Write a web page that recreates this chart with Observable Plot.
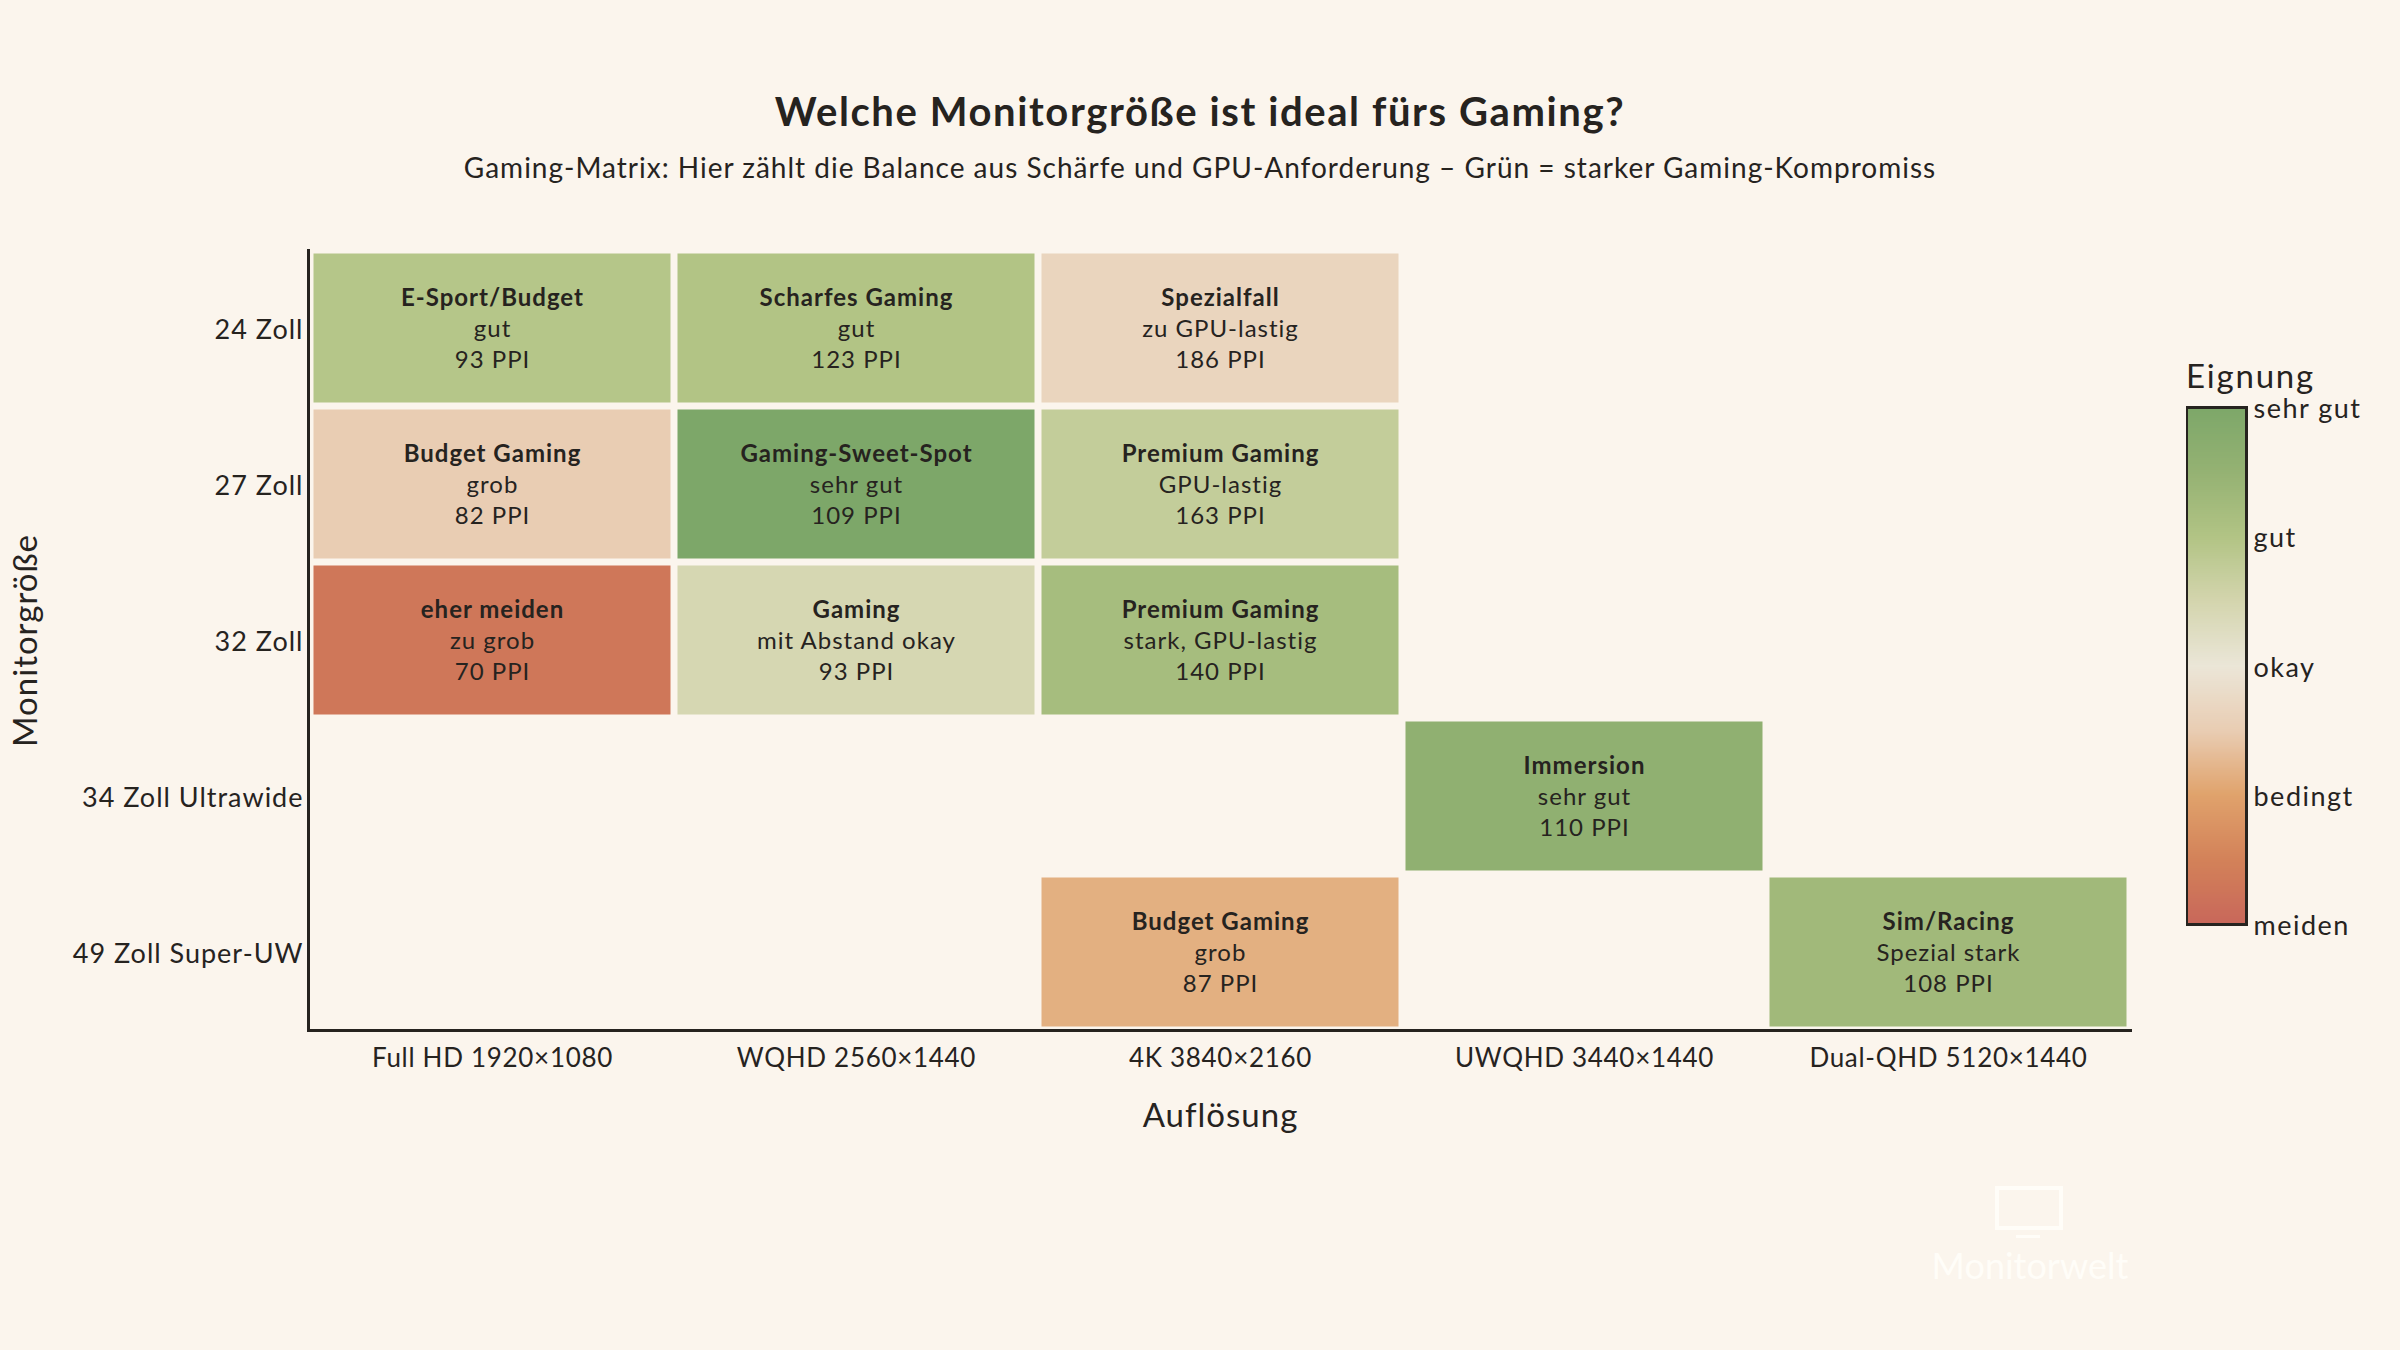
<!DOCTYPE html>
<html lang="de">
<head>
<meta charset="utf-8">
<script src="https://cdn.jsdelivr.net/npm/d3@7"></script>
<script src="https://cdn.jsdelivr.net/npm/@observablehq/plot@0.6"></script>
<style>
  html, body { margin: 0; padding: 0; background: #fbf5ed; }
  #page { position: relative; width: 2400px; height: 1350px; background: #fbf5ed; overflow: hidden; font-family: Lato, sans-serif; color: #26231f; }
  #title { position: absolute; left: 0; width: 2400px; top: 87px; text-align: center; font-size: 40px; font-weight: 700; letter-spacing: 1.6px; line-height: 48px; }
  #subtitle { position: absolute; left: 0; width: 2400px; top: 148px; text-align: center; font-size: 28px; letter-spacing: 1px; line-height: 38px; }
  #chart { position: absolute; left: 0; top: 0; }
  #legend { position: absolute; left: 2186px; top: 357px; }
  #legendTitle { position: absolute; left: 2186px; top: 355px; font-size: 33px; letter-spacing: 1.8px; line-height: 40px; }
  #mark { position: absolute; left: 1995px; top: 1186px; width: 60px; height: 36px; border: 4px solid #fffdf8; }
  #markFoot { position: absolute; left: 2016px; top: 1235px; width: 24px; height: 3px; background: #fffdf8; }
  #markText { position: absolute; left: 1880px; width: 300px; top: 1243px; text-align: center; font-size: 36px; color: #fffdf8; line-height: 44px; }
  svg text { font-family: Lato, sans-serif; }
  #chart g[aria-label="text"] text { letter-spacing: 1px; }
  #chart g[aria-label="x-axis tick label"] text { letter-spacing: 0.7px; }
  #chart g[aria-label="y-axis tick label"] text { letter-spacing: 1px; }
  #legend g[aria-label="y-axis tick label"] text { letter-spacing: 1.5px; }
</style>
</head>
<body>
<div id="page">
  <div id="chart"></div>
  <div id="title">Welche Monitorgröße ist ideal fürs Gaming?</div>
  <div id="subtitle">Gaming-Matrix: Hier zählt die Balance aus Schärfe und GPU-Anforderung – Grün = starker Gaming-Kompromiss</div>
  <div id="mark"></div><div id="markFoot"></div><div id="markText">Monitorwelt</div>
  <div id="legendTitle">Eignung</div>
  <div id="legend"></div>
</div>
<script>
const resolutions = ["Full HD 1920×1080", "WQHD 2560×1440", "4K 3840×2160", "UWQHD 3440×1440", "Dual-QHD 5120×1440"];
const sizes = ["24 Zoll", "27 Zoll", "32 Zoll", "34 Zoll Ultrawide", "49 Zoll Super-UW"];

const cellResolution = [0, 1, 2, 0, 1, 2, 0, 1, 2, 3, 2, 4];
const cellSize       = [0, 0, 0, 1, 1, 1, 2, 2, 2, 3, 4, 4];
const cellTitles = ["E-Sport/Budget", "Scharfes Gaming", "Spezialfall", "Budget Gaming", "Gaming-Sweet-Spot", "Premium Gaming", "eher meiden", "Gaming", "Premium Gaming", "Immersion", "Budget Gaming", "Sim/Racing"];
const cellNotes  = ["gut", "gut", "zu GPU-lastig", "grob", "sehr gut", "GPU-lastig", "zu grob", "mit Abstand okay", "stark, GPU-lastig", "sehr gut", "grob", "Spezial stark"];
const cellPpi    = [93, 123, 186, 82, 109, 163, 70, 93, 140, 110, 87, 108];
const cellScore  = [2.95, 3.0, 1.65, 1.5, 4, 2.75, 0.3, 2.45, 3.2, 3.6, 1.15, 3.3];

const legendLabels = ["meiden", "bedingt", "okay", "gut", "sehr gut"];
const colorStops  = [0, 0.5, 1, 1.5, 2, 2.5, 3, 3.5, 4];
const colorValues = ["#c8675a", "#d38259", "#e0a36c", "#e9cdb3", "#ebe6d8", "#d4d5ae", "#b2c485", "#95b273", "#7da769"];

const ink = "#26231f";
const cells = cellTitles.map((title, i) => ({
  res: resolutions[cellResolution[i]],
  size: sizes[cellSize[i]],
  title,
  note: cellNotes[i],
  ppi: cellPpi[i] + " PPI",
  score: cellScore[i]
}));
const colorScale = {type: "linear", domain: colorStops, range: colorValues};

const chart = Plot.plot({
  width: 2400,
  height: 1350,
  marginLeft: 310,
  marginRight: 270,
  marginTop: 250,
  marginBottom: 320,
  style: {background: "transparent", fontFamily: "Lato, sans-serif", fontSize: "26px", color: ink},
  x: {domain: resolutions, padding: 0},
  y: {domain: sizes, padding: 0},
  color: colorScale,
  marks: [
    Plot.cell(cells, {x: "res", y: "size", fill: "score", inset: 3.5}),
    Plot.frame({anchor: "left", stroke: ink, strokeWidth: 3, dx: -2}),
    Plot.frame({anchor: "bottom", stroke: ink, strokeWidth: 3}),
    Plot.axisX({tickSize: 0, tickPadding: 18, fontSize: 26, label: null, color: ink}),
    Plot.axisY({tickSize: 0, tickPadding: 7, fontSize: 27, dy: 1.5, label: null, color: ink}),
    Plot.text(["Auflösung"], {frameAnchor: "bottom", dy: 96, fontSize: 33, fill: ink}),
    Plot.text(["Monitorgröße"], {frameAnchor: "left", textAnchor: "middle", rotate: -90, dx: -284, fontSize: 33, fill: ink}),
    Plot.text(cells, {x: "res", y: "size", text: "title", dy: -30, fontSize: 24, fontWeight: 700, fill: ink}),
    Plot.text(cells, {x: "res", y: "size", text: "note", dy: 1, fontSize: 24, fill: ink}),
    Plot.text(cells, {x: "res", y: "size", text: "ppi", dy: 32, fontSize: 24, fill: ink})
  ]
});
document.getElementById("chart").append(chart);

const legend = Plot.plot({
  width: 190,
  height: 600,
  marginLeft: 0,
  marginRight: 130,
  marginTop: 50,
  marginBottom: 33,
  style: {background: "transparent", fontFamily: "Lato, sans-serif", fontSize: "27px", color: ink},
  x: {domain: [0, 1], axis: null},
  y: {domain: [0, 4], ticks: 5},
  color: colorScale,
  marks: [
    Plot.raster({fill: (x, y) => y, x1: 0, x2: 1, y1: 0, y2: 4, width: 1, height: 260, imageRendering: "auto"}),
    Plot.frame({stroke: ink, strokeWidth: 3}),
    Plot.axisY({anchor: "right", ticks: d3.range(legendLabels.length), tickFormat: (d) => legendLabels[d], tickSize: 0, tickPadding: 7, dy: 2, fontSize: 27, label: null, textAnchor: "start", color: ink})
  ]
});
document.getElementById("legend").append(legend);
</script>
</body>
</html>
